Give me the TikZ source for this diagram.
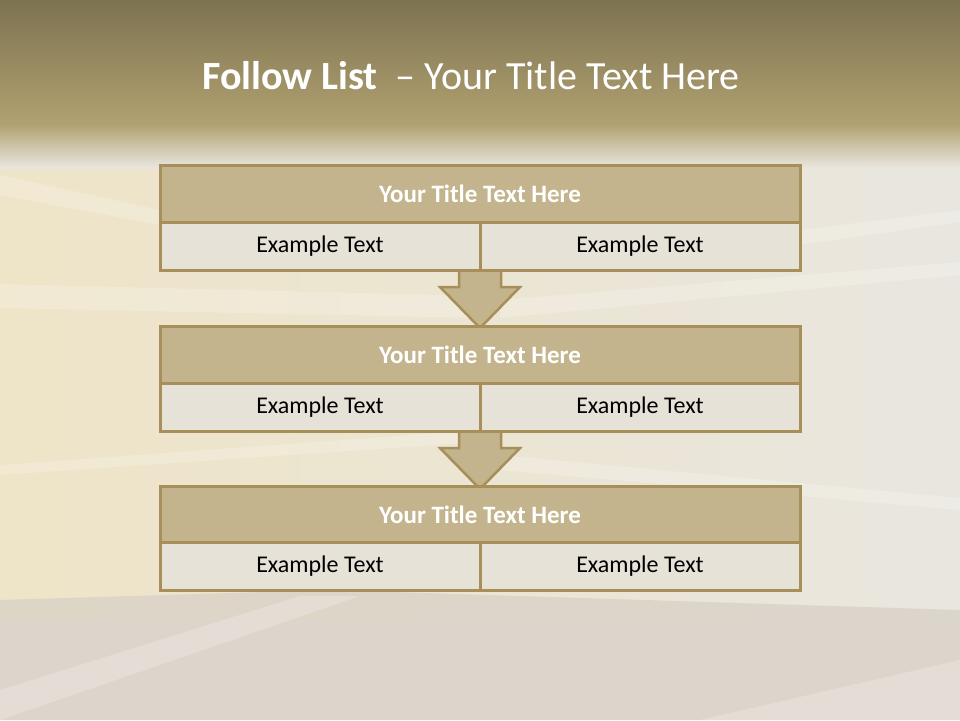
\documentclass[tikz,border=0pt]{standalone}
\usepackage{fontspec}
\setmainfont{Carlito}
\usetikzlibrary{calc}
\definecolor{bordc}{HTML}{A68F58}
\definecolor{headc}{HTML}{C4B48D}
\definecolor{cellc}{HTML}{E6E2D8}
\definecolor{bandtop}{HTML}{7D7350}
\definecolor{bandbot}{HTML}{B2A272}
\definecolor{bglight}{HTML}{E9E6DF}
\definecolor{bgyellow}{HTML}{EEE4C7}
\definecolor{floorc}{HTML}{D8D0C6}
\tikzset{
  headbox/.style={draw=bordc, line width=3pt, fill=headc, minimum width=640pt, minimum height=57pt, inner sep=0pt,
    text=white, font=\fontsize{25}{29}\selectfont\bfseries},
  cellbox/.style={draw=bordc, line width=3pt, fill=cellc, minimum width=320pt, minimum height=48pt, inner sep=0pt,
    text=black, font=\fontsize{24}{28}\selectfont},
  downarrow/.style={draw=bordc, line width=2.5pt, fill=headc, line join=miter},
  streak/.style={fill=white, fill opacity=0.2, draw=none}
}
\begin{document}
\begin{tikzpicture}[x=1pt,y=-1pt]
\useasboundingbox (0,0) rectangle (960,720);
% background
\fill[bglight] (0,0) rectangle (960,720);
\shade[left color=bgyellow, right color=bglight, middle color=bgyellow!50!bglight] (0,150) rectangle (960,620);
\fill[floorc, opacity=0.75] (0,600) -- (330,590) -- (960,610) -- (960,720) -- (0,720) -- cycle;
\fill[white, opacity=0.2] (0,690) -- (300,596) -- (360,596) -- (0,720) -- cycle;
\fill[white, opacity=0.2] (700,720) -- (960,660) -- (960,720) -- cycle;
\fill[streak] (0,284) -- (480,296) -- (480,318) -- (0,308) -- cycle;
\fill[streak] (0,465) -- (480,430) -- (480,442) -- (0,475) -- cycle;
\fill[streak] (500,300) -- (960,262) -- (960,275) -- (500,318) -- cycle;
\fill[streak] (500,455) -- (960,498) -- (960,510) -- (500,470) -- cycle;
\fill[streak] (0,175) -- (160,210) -- (160,225) -- (0,195) -- cycle;
\fill[streak] (800,230) -- (960,210) -- (960,222) -- (800,245) -- cycle;
\shade[top color=bandtop, bottom color=bandbot] (0,0) rectangle (960,126);
\shade[top color=bandbot, bottom color=bglight] (0,125) rectangle (960,168);
% title
\node[text=white, font=\fontsize{40}{46}\selectfont, anchor=center] (title) at (471,76)
  {\textbf{Follow List}\ \ – Your Title Text Here};
% arrows (behind boxes)
\coordinate (a1top) at (480,268);
\coordinate (a1tip) at (480,328);
\coordinate (a2top) at (480,429);
\coordinate (a2tip) at (480,489);
\foreach \t/\p in {a1top/a1tip, a2top/a2tip}{
  \draw[downarrow] ($(\t)+(-21,0)$) -- ($(\t)+(-21,19)$) -- ($(\t)+(-40,19)$) -- (\p)
     -- ($(\t)+(40,19)$) -- ($(\t)+(21,19)$) -- ($(\t)+(21,0)$);
}
% boxes
\node[headbox] (h1) at (480,193.5) {Your Title Text Here};
\node[cellbox] (c1l) at (320,246) {Example Text};
\node[cellbox] (c1r) at (640,246) {Example Text};
\node[headbox] (h2) at (480,354.5) {Your Title Text Here};
\node[cellbox] (c2l) at (320,407) {Example Text};
\node[cellbox] (c2r) at (640,407) {Example Text};
\node[headbox] (h3) at (480,514.5) {Your Title Text Here};
\node[cellbox] (c3l) at (320,566) {Example Text};
\node[cellbox] (c3r) at (640,566) {Example Text};
\end{tikzpicture}
\end{document}
